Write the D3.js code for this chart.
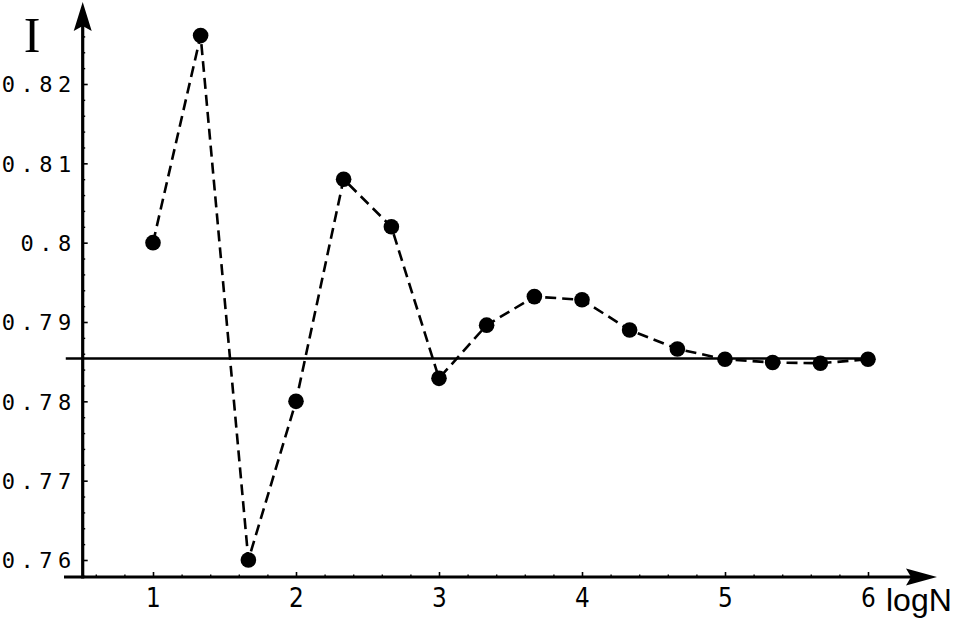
<!DOCTYPE html>
<html>
<head>
<meta charset="utf-8">
<script src="https://cdn.jsdelivr.net/npm/d3@7"></script>
<style>
  html, body { margin: 0; padding: 0; background: #fff; }
  svg { display: block; }
</style>
</head>
<body>
<svg id="chart" width="956" height="618"></svg>
<script>
// ---- data ----
const logN = [1, 1.333, 1.667, 2, 2.333, 2.667, 3, 3.333, 3.667, 4, 4.333, 4.667, 5, 5.333, 5.667, 6];
const I = [0.8000, 0.8261, 0.7600, 0.7800, 0.8080, 0.8020, 0.7829, 0.7896, 0.7932, 0.7928, 0.7890, 0.7866, 0.7853, 0.7849, 0.7848, 0.7853];
const reference = 0.785398;           // pi/4
const xTickValues = [1, 2, 3, 4, 5, 6];
const xMinorTicks = [0.6, 0.8, 1.2, 1.4, 1.6, 1.8, 2.2, 2.4, 2.6, 2.8, 3.2, 3.4, 3.6, 3.8, 4.2, 4.4, 4.6, 4.8, 5.2, 5.4, 5.6, 5.8];
const yTickValues = [0.76, 0.77, 0.78, 0.79, 0.80, 0.81, 0.82];
const yTickLabels = ["0.76", "0.77", "0.78", "0.79", "0.8", "0.81", "0.82"];
const yMinorTicks = [0.758, 0.762, 0.764, 0.766, 0.768, 0.772, 0.774, 0.776, 0.778, 0.782, 0.784, 0.786, 0.788,
                     0.792, 0.794, 0.796, 0.798, 0.802, 0.804, 0.806, 0.808, 0.812, 0.814, 0.816, 0.818, 0.822, 0.824, 0.826, 0.828];

// ---- layout ----
const svg = d3.select("#chart");
const x = d3.scaleLinear().domain([1, 6]).range([153, 868]);
const y = d3.scaleLinear().domain([0.76, 0.82]).range([560, 84]);
const xAxisY = 577;
const yAxisX = 82.7;

// reference line pi/4
svg.append("line")
  .attr("x1", x(0.39)).attr("x2", x(6.05))
  .attr("y1", y(reference)).attr("y2", y(reference))
  .attr("stroke", "#000").attr("stroke-width", 2.6);

// dashed data line
const line = d3.line().x((d, i) => x(logN[i])).y(d => y(d));
svg.append("path")
  .attr("d", line(I))
  .attr("fill", "none")
  .attr("stroke", "#000")
  .attr("stroke-width", 2.6)
  .attr("stroke-dasharray", "11,6");

// points
svg.append("g").selectAll("circle").data(I).join("circle")
  .attr("cx", (d, i) => x(logN[i]))
  .attr("cy", d => y(d))
  .attr("r", 7.8)
  .attr("fill", "#000");

// ---- x axis ----
const gx = svg.append("g").attr("transform", `translate(0,${xAxisY})`);
gx.call(d3.axisBottom(x).tickValues(xTickValues).tickSize(-5).tickPadding(11).tickFormat(d3.format("d")));
gx.select(".domain").remove();
gx.selectAll(".tick line").attr("stroke-width", 1.6);
gx.selectAll(".tick text")
  .attr("font-family", "DejaVu Sans, sans-serif")
  .attr("font-size", 27)
  .attr("fill", "#000")
  .attr("x", 0)
  .attr("dy", "0.71em")
  .attr("transform", "scale(0.86,1)");

const gxm = svg.append("g").attr("transform", `translate(0,${xAxisY})`);
gxm.call(d3.axisBottom(x).tickValues(xMinorTicks).tickSize(-2.5).tickFormat(""));
gxm.select(".domain").remove();
gxm.selectAll(".tick line").attr("stroke-width", 1.4);

// x axis line with arrow
svg.append("line")
  .attr("x1", 64).attr("x2", 912)
  .attr("y1", xAxisY).attr("y2", xAxisY)
  .attr("stroke", "#000").attr("stroke-width", 3.2);
svg.append("path")
  .attr("d", `M937,${xAxisY} L906,${xAxisY - 8.5} L911,${xAxisY} L906,${xAxisY + 8.5} Z`)
  .attr("fill", "#000");

// ---- y axis ----
const gy = svg.append("g").attr("transform", `translate(${yAxisX},0)`);
gy.call(d3.axisLeft(y).tickValues(yTickValues).tickSize(-5).tickPadding(6)
  .tickFormat((d, i) => yTickLabels[i]));
gy.select(".domain").remove();
gy.selectAll(".tick line").attr("stroke-width", 1.6);
gy.selectAll(".tick text")
  .attr("font-family", "DejaVu Sans Mono, monospace")
  .attr("font-size", 22)
  .attr("font-weight", 300)
  .attr("letter-spacing", 5.5)
  .attr("fill", "#000")
  .attr("dy", "0.36em");

const gym = svg.append("g").attr("transform", `translate(${yAxisX},0)`);
gym.call(d3.axisLeft(y).tickValues(yMinorTicks).tickSize(-2.5).tickFormat(""));
gym.select(".domain").remove();
gym.selectAll(".tick line").attr("stroke-width", 1.4);

// y axis line with arrow
svg.append("line")
  .attr("x1", yAxisX).attr("x2", yAxisX)
  .attr("y1", xAxisY + 1.5).attr("y2", 26)
  .attr("stroke", "#000").attr("stroke-width", 3.2);
svg.append("path")
  .attr("d", `M${yAxisX},2 L${yAxisX - 9},31 L${yAxisX},26 L${yAxisX + 9},31 Z`)
  .attr("fill", "#000");

// ---- axis titles ----
svg.append("text")
  .attr("x", 32).attr("y", 52)
  .attr("text-anchor", "middle")
  .attr("font-family", "Liberation Serif, serif")
  .attr("font-size", 50)
  .attr("fill", "#000")
  .text("I");

svg.append("text")
  .attr("x", 886).attr("y", 611)
  .attr("font-family", "Liberation Sans, Arial, sans-serif")
  .attr("font-size", 32)
  .attr("fill", "#000")
  .text("logN");
</script>
</body>
</html>
